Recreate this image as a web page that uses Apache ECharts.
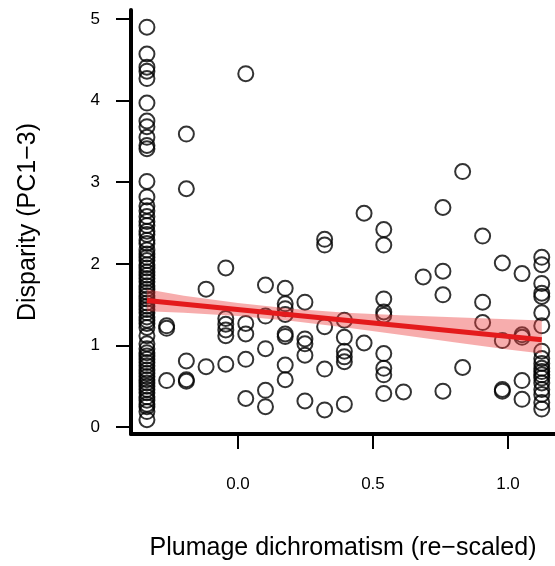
<!DOCTYPE html>
<html>
<head>
<meta charset="utf-8">
<script src="https://cdn.jsdelivr.net/npm/echarts@6/dist/echarts.min.js"></script>
<style>
html,body{margin:0;padding:0;background:#fff;}
#chart{width:555px;height:566px;}
</style>
</head>
<body>
<div id="chart"></div>
<script>
// x positions (re-scaled plumage dichromatism levels)
const xPositions = [-0.337, -0.264, -0.191, -0.118, -0.045, 0.029, 0.102, 0.175, 0.248, 0.321, 0.394, 0.467, 0.540, 0.613, 0.686, 0.759, 0.832, 0.906, 0.979, 1.052, 1.125];
// disparity values observed at each x position
const disparityAtX = [
  [4.90, 4.57, 4.41, 4.36, 4.27, 3.97, 3.75, 3.68, 3.55, 3.45, 3.41, 3.01, 2.82, 2.71, 2.65, 2.58, 2.52, 2.47, 2.40, 2.36, 2.29, 2.25, 2.17, 2.12, 2.08, 2.04, 1.99, 1.95, 1.90, 1.86, 1.82, 1.78, 1.73, 1.69, 1.65, 1.61, 1.57, 1.52, 1.48, 1.44, 1.40, 1.35, 1.31, 1.27, 1.22, 1.12, 1.02, 0.96, 0.91, 0.87, 0.83, 0.79, 0.75, 0.70, 0.66, 0.62, 0.58, 0.54, 0.50, 0.46, 0.42, 0.37, 0.33, 0.28, 0.25, 0.19, 0.09],
  [1.24, 1.21, 0.57],
  [3.59, 2.92, 0.81, 0.58, 0.56],
  [1.69, 0.74],
  [1.95, 1.33, 1.26, 1.19, 1.12, 0.77],
  [4.33, 1.27, 1.14, 0.83, 0.35],
  [1.74, 1.36, 0.96, 0.45, 0.25],
  [1.70, 1.51, 1.45, 1.38, 1.14, 1.11, 0.76, 0.58],
  [1.53, 1.08, 1.02, 0.88, 0.32],
  [2.30, 2.23, 1.23, 0.71, 0.21],
  [1.31, 1.10, 0.93, 0.86, 0.80, 0.28],
  [2.62, 1.03],
  [2.42, 2.23, 1.57, 1.41, 1.37, 0.90, 0.72, 0.64, 0.41],
  [0.43],
  [1.84],
  [2.69, 1.91, 1.62, 0.44],
  [3.13, 0.73],
  [2.34, 1.53, 1.28],
  [2.01, 1.06, 0.46, 0.44],
  [1.88, 1.13, 1.10, 0.57, 0.34],
  [2.08, 1.99, 1.76, 1.64, 1.60, 1.40, 1.24, 0.93, 0.84, 0.78, 0.72, 0.68, 0.64, 0.60, 0.54, 0.46, 0.40, 0.30, 0.22]
];
// fitted regression line
const fitX = [-0.337, 1.125];
const fitY = [1.55, 1.07];
// confidence band
const bandX = [-0.337, -0.2, 0.0, 0.2, 0.4, 0.6, 0.8, 1.0, 1.125];
const bandUpper = [1.69, 1.61, 1.52, 1.45, 1.40, 1.37, 1.345, 1.32, 1.305];
const bandLower = [1.42, 1.40, 1.36, 1.30, 1.22, 1.13, 1.04, 0.95, 0.90];
// ticks
const xTickValues = [0, 0.5, 1.0];
const xTickLabels = ['0.0', '0.5', '1.0'];
const yTickValues = [0, 1, 2, 3, 4, 5];
const yTickLabels = ['0', '1', '2', '3', '4', '5'];

const FONT = '"Liberation Sans", Arial, Helvetica, sans-serif';

const points = [];
xPositions.forEach((x, i) => {
  disparityAtX[i].forEach(y => points.push([x, y]));
});
const fitData = fitX.map((x, i) => [x, fitY[i]]);

const chart = echarts.init(document.getElementById('chart'), null, {renderer: 'canvas'});
chart.setOption({
  animation: false,
  backgroundColor: '#fff',
  grid: {left: 131, right: 0, top: 10, bottom: 127, containLabel: false},
  xAxis: {
    type: 'value', min: -0.396, max: 1.174,
    axisLine: {show: true, onZero: false, lineStyle: {color: '#000', width: 4}},
    axisTick: {show: true, customValues: xTickValues, length: 15, lineStyle: {color: '#000', width: 2}},
    axisLabel: {show: true, customValues: xTickValues, margin: 42, fontSize: 17, color: '#000', fontFamily: FONT,
      formatter: v => { const k = xTickValues.findIndex(t => Math.abs(t - v) < 1e-9); return k >= 0 ? xTickLabels[k] : ''; }},
    splitLine: {show: false},
    name: 'Plumage dichromatism (re\u2212scaled)',
    nameLocation: 'middle', nameGap: 102,
    nameTextStyle: {fontSize: 25, color: '#000', fontFamily: FONT}
  },
  yAxis: {
    type: 'value', min: -0.085, max: 5.11,
    axisLine: {show: true, onZero: false, lineStyle: {color: '#000', width: 4}},
    axisTick: {show: true, customValues: yTickValues, length: 15, lineStyle: {color: '#000', width: 2}},
    axisLabel: {show: true, customValues: yTickValues, margin: 31, fontSize: 17, color: '#000', fontFamily: FONT,
      formatter: v => { const k = yTickValues.findIndex(t => Math.abs(t - v) < 1e-9); return k >= 0 ? yTickLabels[k] : ''; }},
    splitLine: {show: false},
    name: 'Disparity (PC1\u22123)',
    nameLocation: 'middle', nameGap: 90,
    nameTextStyle: {fontSize: 25, color: '#000', fontFamily: FONT}
  },
  series: [
    {
      type: 'scatter', data: points, symbol: 'circle', symbolSize: 15, silent: true, z: 2,
      itemStyle: {color: 'rgba(0,0,0,0)', borderColor: '#000', borderWidth: 2}
    },
    {
      type: 'custom', data: [0], silent: true, z: 3,
      renderItem: (params, api) => {
        const up = bandX.map((x, i) => api.coord([x, bandUpper[i]]));
        const lo = bandX.map((x, i) => api.coord([x, bandLower[i]])).reverse();
        return {type: 'polygon', shape: {points: up.concat(lo)}, style: {fill: 'rgba(235,60,60,0.42)'}};
      }
    },
    {
      type: 'line', data: fitData, showSymbol: false, silent: true, z: 4,
      lineStyle: {color: '#e41a1c', width: 5}
    }
  ]
});
</script>
</body>
</html>
